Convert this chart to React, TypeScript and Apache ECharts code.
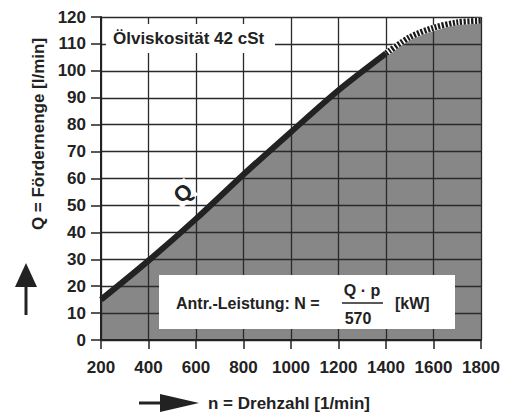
import React, { useEffect, useRef } from "react";
import * as echarts from "echarts";

const rpm = [200, 400, 600, 800, 1000, 1200, 1400, 1500, 1600, 1700, 1800];
const flow = [15, 29.5, 45, 61.5, 77.3, 92.8, 106.5, 112.5, 116, 118, 118.6];
const solidEnd = 6; // index of 1400 rpm: solid up to here, dotted after
const xTicks = { min: 200, max: 1800, step: 200 };
const yTicks = { min: 0, max: 120, step: 10 };

const FONT = "'Liberation Sans', Arial, sans-serif";

export default function App() {
  const ref = useRef<HTMLDivElement>(null);
  useEffect(() => {
    document.body.style.margin = "0";
    if (!ref.current) return;
    const chart = echarts.init(ref.current, undefined, { renderer: "svg" });
    const all = rpm.map((n, i) => [n, flow[i]]);
    const solid = all.slice(0, solidEnd + 1);
    const dotted = all.slice(solidEnd);
    const axisCommon = {
      z: 3,
      axisLine: { show: true, lineStyle: { color: "#222", width: 2 } },
      axisTick: { show: true, lineStyle: { color: "#222", width: 1.5 } },
      splitLine: { show: true, lineStyle: { color: "#2a2a2a", width: 1.3 } },
      axisLabel: {
        color: "#222",
        fontFamily: FONT,
        fontWeight: "bold" as const,
        fontSize: 17,
        formatter: (v: number) => String(v),
      },
    };
    chart.setOption({
      animation: false,
      backgroundColor: "#fff",
      grid: { left: 101, right: 34, top: 17, bottom: 73 },
      xAxis: {
        type: "value",
        min: xTicks.min,
        max: xTicks.max,
        interval: xTicks.step,
        ...axisCommon,
        axisTick: { ...axisCommon.axisTick, length: 9 },
        axisLabel: { ...axisCommon.axisLabel, margin: 19 },
      },
      yAxis: {
        type: "value",
        min: yTicks.min,
        max: yTicks.max,
        interval: yTicks.step,
        ...axisCommon,
        axisTick: { ...axisCommon.axisTick, length: 10 },
        axisLabel: { ...axisCommon.axisLabel, margin: 15 },
      },
      series: [
        {
          type: "line",
          data: all,
          smooth: 0.3,
          symbol: "none",
          z: 1,
          lineStyle: { width: 0, color: "#888" },
          areaStyle: { color: "#878787", opacity: 1 },
        },
        {
          type: "line",
          data: solid,
          smooth: 0.3,
          symbol: "none",
          z: 5,
          lineStyle: { width: 6, color: "#222", cap: "butt" },
        },
        {
          type: "line",
          data: dotted,
          smooth: 0.3,
          symbol: "none",
          z: 5,
          lineStyle: { width: 6, color: "#fff", cap: "butt" },
        },
        {
          type: "line",
          data: dotted,
          smooth: 0.3,
          symbol: "none",
          z: 6,
          lineStyle: { width: 6, color: "#1a1a1a", type: [2.2, 1.5], cap: "butt" },
        },
      ],
      graphic: [
        { type: "rect", z: 100, shape: { x: 106, y: 24, width: 169, height: 29 }, style: { fill: "#fff" } },
        {
          type: "text", z: 101, x: 113, y: 38,
          style: { text: "Ölviskosität 42 cSt", fill: "#222", font: `bold 17px ${FONT}`, verticalAlign: "middle", align: "left" },
        },
        {
          type: "text", z: 101, x: 183, y: 193, rotation: 0.7,
          style: {
            text: "Q", fill: "#222", font: `bold 22px ${FONT}`, align: "center", verticalAlign: "middle",
            backgroundColor: "#fff", padding: [0, 2, 0, 2],
          },
        },
        { type: "rect", z: 100, shape: { x: 159, y: 275, width: 296, height: 54 }, style: { fill: "#fff" } },
        {
          type: "text", z: 101, x: 176, y: 303,
          style: { text: "Antr.-Leistung: N =", fill: "#222", font: `bold 16px ${FONT}`, verticalAlign: "middle", align: "left" },
        },
        {
          type: "text", z: 101, x: 362, y: 290,
          style: { text: "Q · p", fill: "#222", font: `bold 16px ${FONT}`, verticalAlign: "middle", align: "center" },
        },
        { type: "line", z: 101, shape: { x1: 342, y1: 303, x2: 383, y2: 303 }, style: { stroke: "#222", lineWidth: 1.5 } },
        {
          type: "text", z: 101, x: 358, y: 318,
          style: { text: "570", fill: "#222", font: `bold 16px ${FONT}`, verticalAlign: "middle", align: "center" },
        },
        {
          type: "text", z: 101, x: 395, y: 303,
          style: { text: "[kW]", fill: "#222", font: `bold 16px ${FONT}`, verticalAlign: "middle", align: "left" },
        },
        {
          type: "text", z: 101, x: 38, y: 134, rotation: Math.PI / 2,
          style: { text: "Q = Fördernenge [l/min]", fill: "#222", font: `bold 17px ${FONT}`, verticalAlign: "middle", align: "center" },
        },
        { type: "polygon", z: 101, shape: { points: [[26, 263], [15, 287], [37, 287]] }, style: { fill: "#222" } },
        { type: "rect", z: 101, shape: { x: 24.5, y: 286, width: 3, height: 29 }, style: { fill: "#222" } },
        { type: "polygon", z: 101, shape: { points: [[199, 403], [160, 394], [160, 412]] }, style: { fill: "#222" } },
        { type: "rect", z: 101, shape: { x: 139, y: 401.5, width: 22, height: 3 }, style: { fill: "#222" } },
        {
          type: "text", z: 101, x: 208, y: 403,
          style: { text: "n = Drehzahl [1/min]", fill: "#222", font: `bold 17px ${FONT}`, verticalAlign: "middle", align: "left" },
        },
      ],
    });
    return () => chart.dispose();
  }, []);
  return <div ref={ref} style={{ width: 515, height: 413 }} />;
}
